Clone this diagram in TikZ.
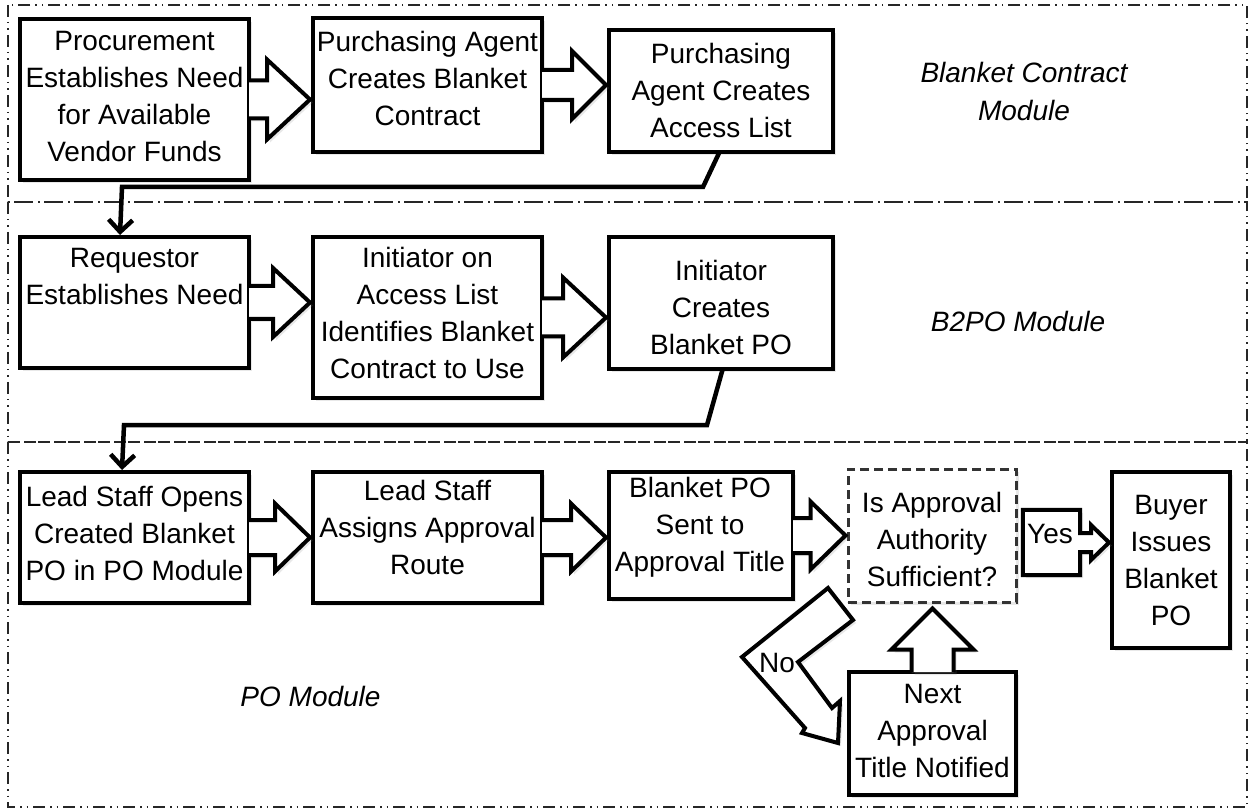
\documentclass[tikz,border=0pt]{standalone}
\usepackage{fontspec}
\setmainfont{Liberation Sans}
\usetikzlibrary{calc,arrows.meta,shadows}
\tikzset{
  lane/.style={draw=black!85, line width=1.8pt, dash pattern=on 12pt off 5pt on 1.5pt off 5pt on 1.5pt off 5pt},
  box/.style={rectangle, draw=black, line width=4pt, fill=white, inner sep=0pt,
    drop shadow={shadow xshift=3pt, shadow yshift=-3pt, opacity=0.18}},
  dbox/.style={box, draw=black!80, line width=3pt, dash pattern=on 9pt off 5pt},
  txt/.style={font=\fontsize{28}{37}\selectfont, align=center, inner sep=0pt, text=black},
  itxt/.style={font=\fontsize{28}{38}\selectfont\itshape, align=center, inner sep=0pt, text=black},
  blk/.style={draw=black, line width=4pt, fill=white, line join=miter,
    drop shadow={shadow xshift=3pt, shadow yshift=-3pt, opacity=0.18}},
  conn/.style={draw=black, line width=4.5pt, line join=miter, -{Straight Barb[length=12pt,width=24pt]}},
}
% horizontal block arrow: source, target, shaft half, head half, head length
\newcommand{\hblock}[5]{%
  \draw[blk] let \p1=(#1.east), \p2=(#2.west) in
    (\x1-2pt,\y1+#3pt) -- (\x2-1pt-#5pt,\y1+#3pt) -- (\x2-1pt-#5pt,\y1+#4pt) -- (\x2-1pt,\y1)
    -- (\x2-1pt-#5pt,\y1-#4pt) -- (\x2-1pt-#5pt,\y1-#3pt) -- (\x1-2pt,\y1-#3pt);}
\begin{document}
\begin{tikzpicture}[x=1pt,y=-1pt]
\useasboundingbox (0,0) rectangle (1251,810);
\fill[white] (0,0) rectangle (1251,810);

% lanes
\draw[lane] (8,5) rectangle (1247,202);
\draw[lane] (8,202) rectangle (1247,442);
\draw[lane] (8,442) rectangle (1247,807);

\node[itxt] (l1) at (1024,92) {Blanket Contract\\Module};
\node[itxt] (l2) at (1018,321) {B2PO Module};
\node[itxt] (l3) at (310.5,696) {PO Module};

% boxes
\node[box, minimum width=229pt, minimum height=161pt] (proc) at (134.5,99.5) {};
\node[box, minimum width=229pt, minimum height=134pt] (pac) at (427.5,85) {};
\node[box, minimum width=224pt, minimum height=122pt] (pal) at (721,91) {};
\node[box, minimum width=229pt, minimum height=131pt] (req) at (134.5,302.5) {};
\node[box, minimum width=229pt, minimum height=161pt] (ini) at (427.5,317.5) {};
\node[box, minimum width=224pt, minimum height=132pt] (icb) at (721,303) {};
\node[box, minimum width=229pt, minimum height=131pt] (lso) at (134.5,537.5) {};
\node[box, minimum width=229pt, minimum height=131pt] (lsa) at (427.5,537.5) {};
\node[box, minimum width=184pt, minimum height=127pt] (bps) at (701,535.5) {};
\node[dbox, minimum width=168pt, minimum height=133pt] (iaa) at (932,535.5) {};
\node[box, minimum width=118pt, minimum height=176pt] (bib) at (1171,560) {};
\node[box, minimum width=167pt, minimum height=123pt] (nat) at (932.5,733.5) {};
\node[inner sep=0pt, minimum width=57pt, minimum height=65pt] (yes) at (1051.5,542.5) {};

% block arrows
\hblock{proc}{pac}{19}{40}{43}
\hblock{pac}{pal}{15}{34}{34}
\hblock{req}{ini}{16.5}{34.5}{37}
\hblock{ini}{icb}{19}{40}{43}
\hblock{lso}{lsa}{17.5}{34}{35}
\hblock{lsa}{bps}{17.5}{34}{35}
\hblock{bps}{iaa}{17.5}{34}{35}

% up arrow from Next Approval to decision
\draw[blk] let \p1=(nat.north), \p2=(iaa.south) in
  (\x1-21pt,\y1-2pt) -- (\x1-21pt,\y2-46pt) -- (\x1-41pt,\y2-46pt) -- (\x1,\y2-5pt)
  -- (\x1+41pt,\y2-46pt) -- (\x1+21pt,\y2-46pt) -- (\x1+21pt,\y1-2pt);

% Yes callout arrow
\draw[blk] let \p1=(yes.north west), \p2=(yes.south east), \p3=(yes.east), \p4=(bib.west) in
  (\p1) -- (\x2,\y1) -- (\x2,\y3+9.5pt) -- (\x4-19pt,\y3+9.5pt) -- (\x4-19pt,\y3+17.5pt)
  -- (\x4-1pt,\y3) -- (\x4-19pt,\y3-17.5pt) -- (\x4-19pt,\y3-9.5pt) -- (\x2,\y3-9.5pt)
  -- (\p2) -- (\x1,\y2) -- cycle;

% No bent arrow
\coordinate (n1) at (828,588);
\coordinate (n2) at (853,620);
\coordinate (n3) at (798,662);
\coordinate (n4) at (832,708);
\coordinate (n5) at (840,701);
\coordinate (n6) at (838,743);
\coordinate (n7) at (802,733);
\coordinate (n8) at (805,728);
\coordinate (n9) at (742,657);
\draw[blk] (n1) -- (n2) -- (n3) -- (n4) -- (n5) -- (n6) -- (n7) -- (n8) -- (n9) -- cycle;

% thin connectors
\draw[conn] ($(pal.south west)+(113,-3)$) -- (703,187) -- (122,187) -- ($(req.north west)+(102,0)$);
\draw[conn] ($(icb.south west)+(116,-3)$) -- (707,425) -- (124,425) -- ($(lso.north west)+(104,0)$);

% texts
\node[txt] (proct) at (134.5,97) {Procurement\\Establishes Need\\for Available\\Vendor Funds};
\node[txt] (pact) at (427.5,78.5) {Purchasing Agent\\Creates Blanket\\Contract};
\node[txt] (palt) at (721,90) {Purchasing\\Agent Creates\\Access List};
\node[txt] (reqt) at (134.5,276.5) {Requestor\\Establishes Need};
\node[txt] (init) at (427.5,312.5) {Initiator on\\Access List\\Identifies Blanket\\Contract to Use};
\node[txt] (icbt) at (721,307) {Initiator\\Creates\\Blanket PO};
\node[txt] (lsot) at (134.5,533) {Lead Staff Opens\\Created Blanket\\PO in PO Module};
\node[txt] (lsat) at (427.5,527) {Lead Staff\\Assigns Approval\\Route};
\node[txt] (bpst) at (700,527) {Blanket PO\\Sent to\\Approval Title};
\node[txt] (iaat) at (932,539) {Is Approval\\Authority\\Sufficient?};
\node[txt] (bibt) at (1171,560.5) {Buyer\\Issues\\Blanket\\PO};
\node[txt] (natt) at (932.5,731) {Next\\Approval\\Title Notified};
\node[txt] (yest) at (1050,534) {Yes};
\node[txt] (not) at (777,663) {No};
\end{tikzpicture}
\end{document}
